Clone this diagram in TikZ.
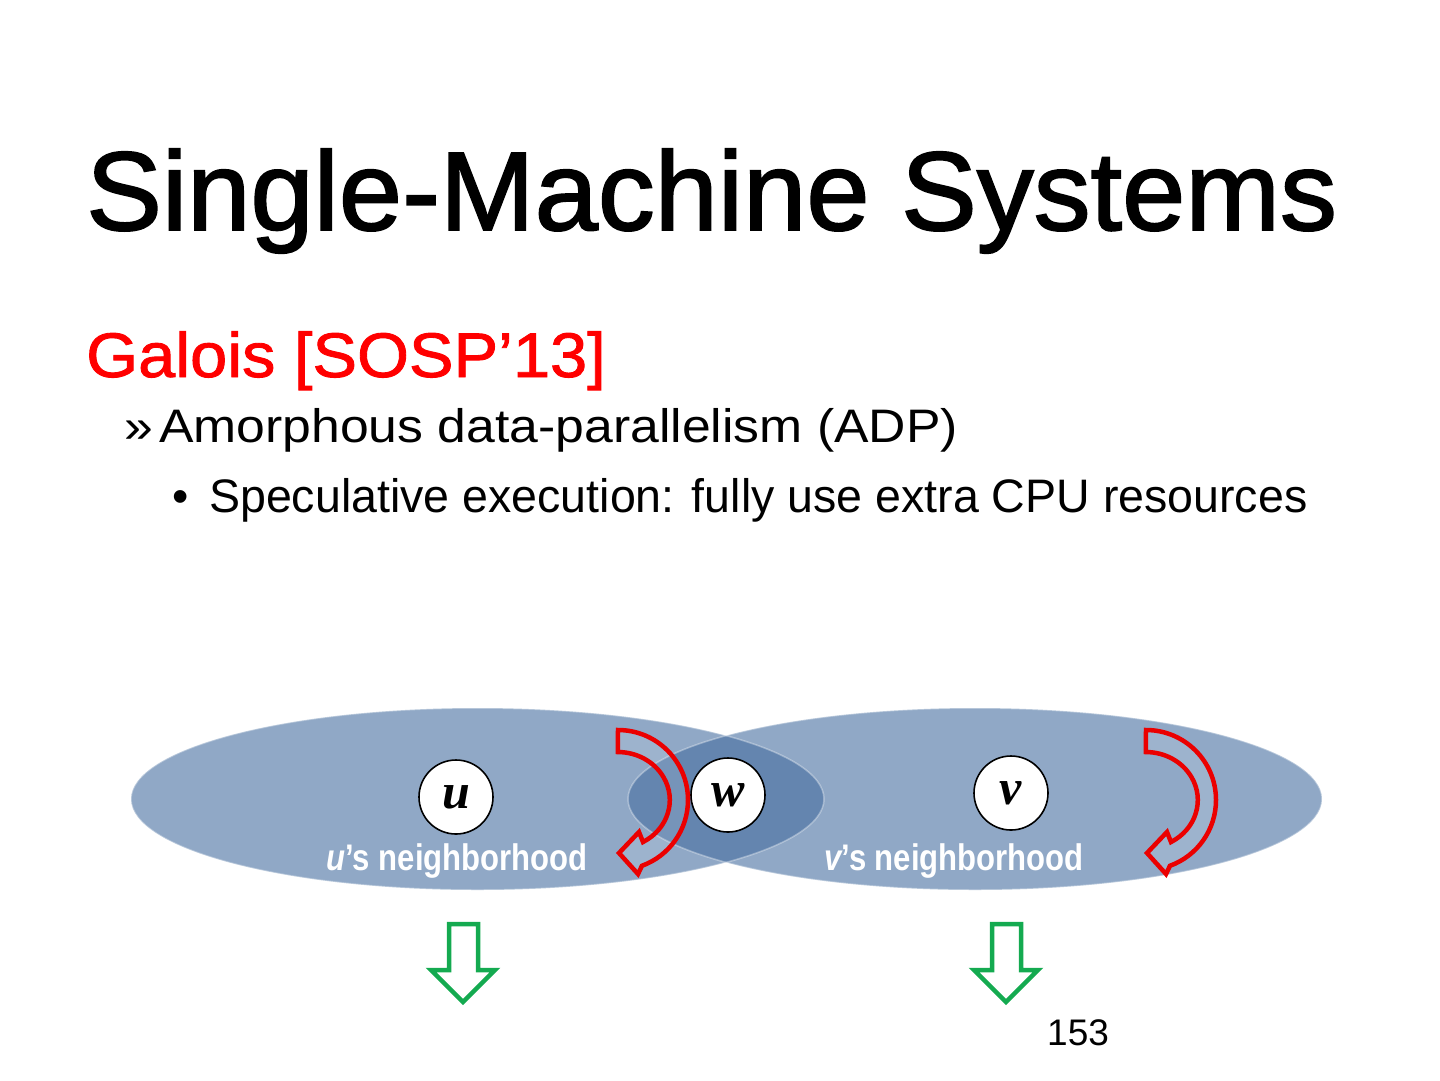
\documentclass[tikz,border=0pt]{standalone}
\usepackage{fontspec}
\setmainfont{Liberation Sans}
\newfontfamily\headfont[FakeBold=1.6,FakeStretch=1.015]{Liberation Sans}
\newfontfamily\subfont[FakeBold=1.4,FakeStretch=1.06]{Liberation Sans}
\newfontfamily\lvlonefont[FakeStretch=1.1]{Liberation Sans}
\newfontfamily\lvltwofont[FakeStretch=0.99]{Liberation Sans}
\newfontfamily\nbfont[FakeStretch=0.84]{Liberation Sans}
\newfontfamily\vtxfont{Liberation Serif}
\usepackage{tikz}
\usetikzlibrary{positioning}

\definecolor{nbblue}{RGB}{70,110,160}
\definecolor{adpred}{RGB}{235,0,0}
\definecolor{arrgreen}{RGB}{20,170,80}

\begin{document}
\begin{tikzpicture}[x=1pt,y=-1pt,
  vertex/.style={circle,draw,line width=1.6,fill=white,minimum size=74,inner sep=0pt,
    font=\vtxfont\fontsize{50}{50}\selectfont\bfseries\itshape},
  nblabel/.style={text=white,anchor=base,font=\nbfont\fontsize{37}{37}\selectfont\bfseries},
  turnarrow/.style={draw=adpred,line width=4.5,fill=white,fill opacity=0.12,line join=miter},
  downarrow/.style={draw=arrgreen,line width=4.5,fill=white,line join=miter}]
\useasboundingbox (0,0) rectangle (1440,1080);

% Slide text
\node[anchor=base west,inner sep=0pt,font=\headfont\fontsize{112}{112}\selectfont] (title) at (86,230) {Single-Machine Systems};
\node[anchor=base west,inner sep=0pt,text=red,font=\subfont\fontsize{63}{63}\selectfont] (galois) at (86,377) {Galois [SOSP’13]};
\node[anchor=base west,inner sep=0pt,font=\lvlonefont\fontsize{47}{47}\selectfont] (mark1) at (124,442) {»};
\node[anchor=base west,inner sep=0pt,font=\lvlonefont\fontsize{47}{47}\selectfont] (adp) at (159,442) {Amorphous data-parallelism (ADP)};
\node[anchor=base west,inner sep=0pt,font=\lvltwofont\fontsize{47}{47}\selectfont] (mark2) at (172,512) {•};
\node[anchor=base west,inner sep=0pt,font=\lvltwofont\fontsize{47}{47}\selectfont] (spec) at (209,512) {Speculative execution: fully use extra CPU resources};

% Neighborhoods
\fill[nbblue,opacity=0.6] (477.5,799) ellipse [x radius=346.5,y radius=91];
\fill[nbblue,opacity=0.6] (975,799) ellipse [x radius=347,y radius=91];
\draw[white,opacity=0.35,line width=1.5] (477.5,799) ellipse [x radius=346.5,y radius=91];
\draw[white,opacity=0.35,line width=1.5] (975,799) ellipse [x radius=347,y radius=91];

\node[vertex] (u) at (456,797) {u};
\node[vertex] (w) at (728,795) {w};
\node[vertex] (v) at (1011,793) {v};

\node[nblabel] (ulabel) at (457,870) {{\itshape u}’s neighborhood};
\node[nblabel] (vlabel) at (954,870) {{\itshape v}’s neighborhood};

% Curved arrows (speculative re-execution)
\foreach \dx in {0,528}{
  \begin{scope}[xshift=\dx]
  \draw[turnarrow] (618,730) arc[start angle=-90,end angle=70,x radius=70,y radius=70]
    -- (638,874) -- (619,853) -- (639,832) -- (643,842)
    arc[start angle=61,end angle=-90,x radius=52,y radius=48] -- cycle;
  \end{scope}
}

% Down arrows
\foreach \dx in {0,543}{
  \begin{scope}[xshift=\dx]
  \draw[downarrow] (449,924) -- (478,924) -- (478,970) -- (495,970) -- (463,1002)
    -- (431,970) -- (449,970) -- cycle;
  \end{scope}
}

\node[anchor=base west,inner sep=0pt,font=\fontsize{37}{37}\selectfont] (page) at (1047,1045) {153};
\end{tikzpicture}
\end{document}
